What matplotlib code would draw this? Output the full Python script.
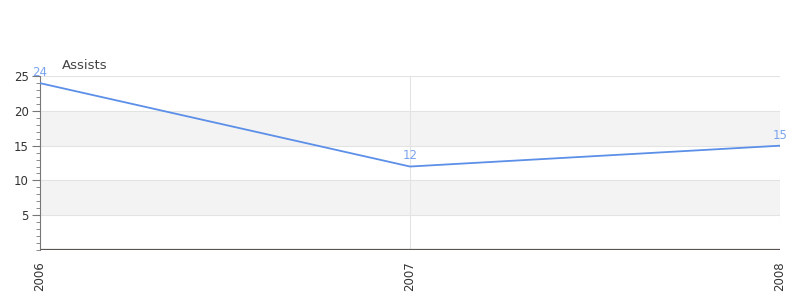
import matplotlib.pyplot as plt

years = ['2006', '2007', '2008']
assists = [24, 12, 15]

fig = plt.figure(figsize=(8, 3), dpi=100)
ax = fig.add_axes([0.05, 0.167, 0.925, 0.579])

x = list(range(len(years)))
ax.set_xlim(0, 2)
ax.set_ylim(0, 25)

# faixas cinzas alternadas
for lo, hi in [(5, 10), (15, 20)]:
    ax.axhspan(lo, hi, color='#f3f3f3', zorder=0, lw=0)
for yv in [5, 10, 15, 20, 25]:
    ax.axhline(yv, color='#e3e3e3', lw=0.8, zorder=1)
for xv in [1, 2]:
    ax.axvline(xv, color='#e3e3e3', lw=0.8, zorder=1)

ax.plot(x, assists, color='#5b8fe8', lw=1.3, zorder=3)
for xi, v in zip(x, assists):
    ax.annotate(str(v), (xi, v), xytext=(0, 3), textcoords='offset points',
                ha='center', va='bottom', fontsize=8.5, color='#7aa3ee', zorder=4)

ax.axhline(0, color='#555555', lw=1.6, zorder=2)
ax.axhline(0, color='#e02020', lw=0.8, zorder=2)

for s in ['top', 'right', 'bottom']:
    ax.spines[s].set_visible(False)
ax.spines['left'].set_color('#777777')
ax.spines['left'].set_linewidth(0.8)

ax.set_yticks([5, 10, 15, 20, 25])
ax.set_yticks(range(0, 26), minor=True)
ax.tick_params(axis='y', which='major', length=6, color='#777777', labelsize=8.5,
               labelcolor='#333333', pad=2)
ax.tick_params(axis='y', which='minor', length=3, color='#777777')

ax.set_xticks(x)
ax.set_xticklabels(years, rotation=90, fontsize=8.5, color='#333333')
ax.tick_params(axis='x', length=0, pad=8)

fig.text(0.0775, 0.76, 'Assists', fontsize=9.5, color='#444444', ha='left', va='bottom')

fig.savefig('out.png')
